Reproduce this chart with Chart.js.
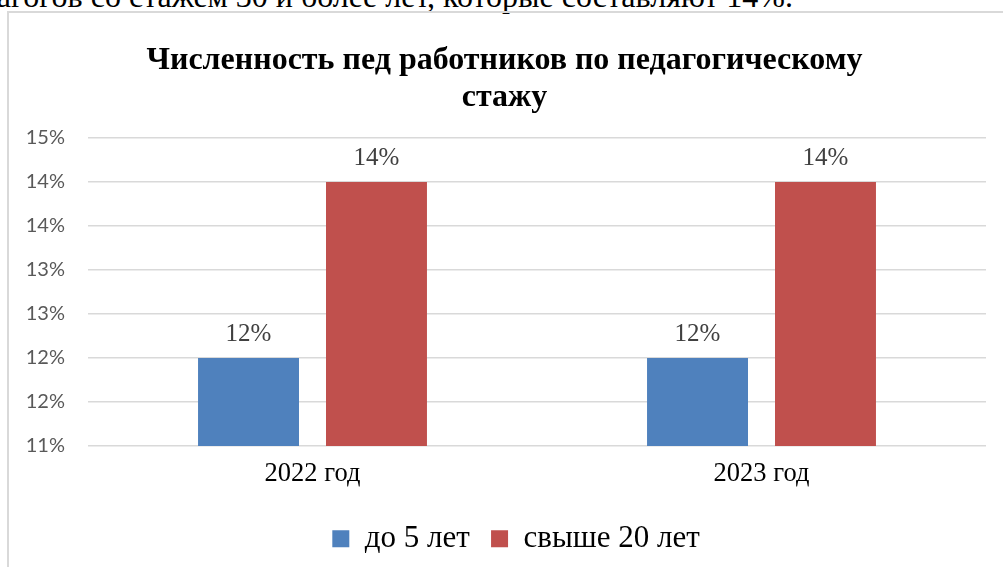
<!DOCTYPE html>
<html>
<head>
<meta charset="utf-8">
<script src="https://cdn.jsdelivr.net/npm/chart.js@4.4.1/dist/chart.umd.min.js"></script>
<style>
  html, body { margin: 0; padding: 0; background: #ffffff; width: 1003px; height: 567px; overflow: hidden; }
  #doc { position: absolute; right: 210px; top: -19.8px; font: 32px "Liberation Serif", "Times New Roman", serif; line-height: 32px; color: #000; white-space: nowrap; text-align: right; }
  #frame { position: absolute; left: 7px; top: 11px; width: 1020px; height: 600px; border: 2px solid #d9d9d9; box-sizing: border-box; }
  #wrap { position: absolute; left: 0; top: 0; width: 1003px; height: 567px; }
</style>
</head>
<body>
<div id="doc">агогов со стажем 30 и более лет, которые составляют 14%.</div>
<div id="frame"></div>
<div id="wrap"><canvas id="chart" width="1003" height="567"></canvas></div>
<script>
// ---- data ----
const categories = ['2022 год', '2023 год'];
const seriesNames = ['до 5 лет', 'свыше 20 лет'];
const upTo5Years = [0.12, 0.12];
const over20Years = [0.14, 0.14];
const yTickValues = [0.11, 0.115, 0.12, 0.125, 0.13, 0.135, 0.14, 0.145];
const yTickLabels = ['11%', '12%', '12%', '13%', '13%', '14%', '14%', '15%'];
const titleLines = ['Численность пед работников по педагогическому', 'стажу'];

// ---- plugins ----
const valueLabels = {
  id: 'valueLabels',
  afterDatasetsDraw(chart) {
    const ctx = chart.ctx;
    ctx.save();
    ctx.font = '25px "Liberation Serif"';
    ctx.fillStyle = '#404040';
    ctx.textAlign = 'center';
    ctx.textBaseline = 'alphabetic';
    chart.data.datasets.forEach((ds, di) => {
      chart.getDatasetMeta(di).data.forEach((bar, i) => {
        ctx.fillText(Math.round(ds.data[i] * 100) + '%', bar.x, bar.y - 17);
      });
    });
    ctx.restore();
  }
};
const legendShift = {
  id: 'legendShift',
  afterLayout(chart) {
    const l = chart.legend;
    if (l) { l.left += 11.5; l.right += 11.5; }
  }
};

new Chart(document.getElementById('chart'), {
  type: 'bar',
  data: {
    labels: categories,
    datasets: [
      { label: seriesNames[0], data: upTo5Years, backgroundColor: '#4f81bd', borderWidth: 0 },
      { label: seriesNames[1], data: over20Years, backgroundColor: '#c0504d', borderWidth: 0 }
    ]
  },
  options: {
    responsive: false,
    animation: false,
    events: [],
    categoryPercentage: 0.57,
    barPercentage: 0.789,
    layout: { padding: { top: 0, left: 23, right: 17, bottom: 2.7 } },
    plugins: {
      tooltip: { enabled: false },
      title: {
        display: true,
        text: titleLines,
        color: '#000',
        font: { family: '"Liberation Serif"', size: 32, weight: 'bold', lineHeight: 36.6 / 32 },
        padding: { top: 42.6, bottom: 22.2 }
      },
      legend: {
        display: true,
        position: 'bottom',
        labels: {
          color: '#000',
          font: { family: '"Liberation Serif"', size: 31 },
          boxWidth: 17,
          boxHeight: 17,
          padding: 21.2
        }
      }
    },
    scales: {
      x: {
        grid: { display: false, drawTicks: false },
        border: { display: false },
        ticks: {
          color: '#000',
          font: { family: '"Liberation Serif"', size: 26.5, lineHeight: 1 },
          padding: 14.8,
          maxRotation: 0
        }
      },
      y: {
        min: 0.11,
        max: 0.145,
        afterBuildTicks(scale) { scale.ticks = yTickValues.map(v => ({ value: v })); },
        afterFit(scale) { scale.width = 65; },
        grid: { color: '#d9d9d9', lineWidth: 1.5, drawTicks: false },
        border: { display: false },
        ticks: {
          color: '#595959',
          font: { family: 'Lato', size: 20 },
          padding: 23,
          callback: (v, i) => yTickLabels[i]
        }
      }
    }
  },
  plugins: [valueLabels, legendShift]
});
</script>
</body>
</html>
